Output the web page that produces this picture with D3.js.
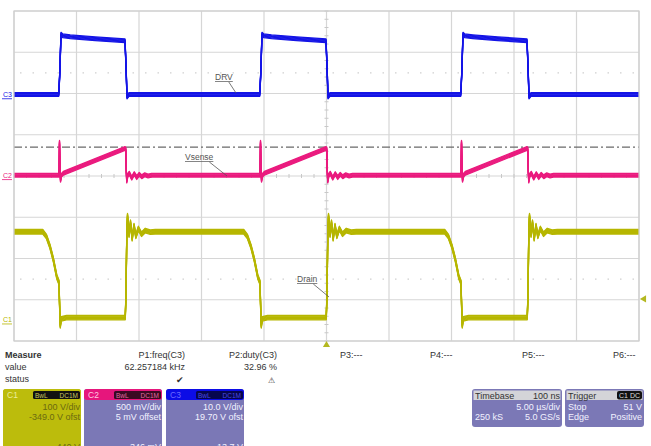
<!DOCTYPE html>
<html>
<head>
<meta charset="utf-8">
<script src="https://cdn.jsdelivr.net/npm/d3@7"></script>
<style>
  body { margin: 0; background: #fff; }
  svg { display: block; font-family: "Liberation Sans", Arial, sans-serif; }
</style>
</head>
<body>
<div id="scope"></div>
<script>
"use strict";

// time in µs, 5 µs/div, 10 divisions
var timeDivs = [0, 5, 10, 15, 20, 25, 30, 35, 40, 45, 50];
var vertDivs = [-4, -3, -2, -1, 0, 1, 2, 3, 4];

// C3 DRV gate drive, volts
var drvPts = [
  [0, 0], [3.58, 0], [3.66, 5], [3.76, 14.6], [3.9, 14.2], [4.5, 14.0], [6.5, 13.5], [8.88, 13.0], [8.96, 7], [9.04, -0.6], [9.2, 0],
  [19.66, 0], [19.74, 5], [19.84, 14.6], [19.98, 14.2], [20.6, 14.0], [22.6, 13.5], [24.96, 13.0], [25.04, 7], [25.12, -0.6], [25.28, 0],
  [35.74, 0], [35.82, 5], [35.92, 14.6], [36.06, 14.2], [36.7, 14.0], [38.7, 13.5], [41.04, 13.0], [41.12, 7], [41.2, -0.6], [41.36, 0],
  [50, 0]
];

// C2 Vsense, mV
var vsensePts = [
  [0, 0], [3.6, 0], [3.64, 400], [3.68, 120], [3.72, -60], [3.8, 0], [3.95, 25], [8.88, 325], [8.94, 318], [8.98, 60], [9.02, -70],
  [9.1, 0], [9.22, 25], [9.42, -35], [9.62, 20], [9.82, -28], [10.02, 12], [10.22, -18], [10.46, 6], [10.72, -8], [11.0, 0],
  [19.68, 0], [19.72, 400], [19.76, 120], [19.8, -60], [19.88, 0], [20.03, 25], [24.96, 325], [25.02, 318], [25.06, 60], [25.1, -70],
  [25.18, 0], [25.3, 25], [25.5, -35], [25.7, 20], [25.9, -28], [26.1, 12], [26.3, -18], [26.54, 6], [26.8, -8], [27.08, 0],
  [35.76, 0], [35.8, 400], [35.84, 120], [35.88, -60], [35.96, 0], [36.11, 25], [41.04, 325], [41.1, 318], [41.14, 60], [41.18, -70],
  [41.26, 0], [41.38, 25], [41.58, -35], [41.78, 20], [41.98, -28], [42.18, 12], [42.38, -18], [42.62, 6], [42.88, -8], [43.16, 0],
  [50, 0]
];

// C1 Drain, volts
var drainPts = [
  [0, 213], [2.3, 213], [2.6, 201], [2.88, 177], [3.15, 145], [3.42, 104], [3.6, 90], [3.66, 20], [3.7, -15], [3.78, 2], [4.2, 5], [8.9, 5],
  [8.96, 60], [9.02, 200], [9.08, 252], [9.2, 205], [9.32, 236], [9.45, 196], [9.6, 228], [9.75, 202], [9.95, 221], [10.2, 207], [10.5, 216], [10.9, 212], [11.3, 213],
  [18.38, 213], [18.68, 201], [18.96, 177], [19.23, 145], [19.5, 104], [19.68, 90], [19.74, 20], [19.78, -15], [19.86, 2], [20.28, 5], [24.98, 5],
  [25.04, 60], [25.1, 200], [25.16, 252], [25.28, 205], [25.4, 236], [25.53, 196], [25.68, 228], [25.83, 202], [26.03, 221], [26.28, 207], [26.58, 216], [26.98, 212], [27.38, 213],
  [34.46, 213], [34.76, 201], [35.04, 177], [35.31, 145], [35.58, 104], [35.76, 90], [35.82, 20], [35.86, -15], [35.94, 2], [36.36, 5], [41.06, 5],
  [41.12, 60], [41.18, 200], [41.24, 252], [41.36, 205], [41.48, 236], [41.61, 196], [41.76, 228], [41.91, 202], [42.11, 221], [42.36, 207], [42.66, 216], [43.06, 212], [43.46, 213],
  [50, 213]
];

var measureHeads = ["P1:freq(C3)", "P2:duty(C3)", "P3:---", "P4:---", "P5:---", "P6:---"];
var measureValues = ["62.257184 kHz", "32.96 %"];
var channelLines = [
  ["100 V/div", "-349.0 V ofst", "440 V"],
  ["500 mV/div", "5 mV offset", "346 mV"],
  ["10.0 V/div", "19.70 V ofst", "13.7 V"]
];

var W = 651, H = 446;
var plot = { left: 14, right: 639, top: 11, bottom: 341 };
var center = (plot.top + plot.bottom) / 2;

var x = d3.scaleLinear().domain([0, 50]).range([plot.left, plot.right]);
var yDiv = d3.scaleLinear().domain([-4, 4]).range([plot.bottom, plot.top]);
// volts/div and offset per channel
function chanScale(vdiv, ofst) {
  return d3.scaleLinear().domain([-4 * vdiv - ofst, 4 * vdiv - ofst]).range([plot.bottom, plot.top]);
}
var yC1 = chanScale(100, -349);
var yC2 = chanScale(500, 5);
var yC3 = chanScale(10, 19.7);

var svg = d3.select("#scope").append("svg").attr("width", W).attr("height", H);

svg.append("defs").append("clipPath").attr("id", "plotclip")
  .append("rect").attr("x", plot.left).attr("y", plot.top)
  .attr("width", plot.right - plot.left).attr("height", plot.bottom - plot.top);

var grid = svg.append("g").attr("class", "grid");
grid.selectAll(".vl").data(timeDivs).enter().append("line")
  .attr("x1", function (d) { return x(d); }).attr("x2", function (d) { return x(d); })
  .attr("y1", plot.top).attr("y2", plot.bottom)
  .attr("stroke", "#d6d6d6").attr("stroke-width", 1.2);
grid.selectAll(".hl").data(vertDivs).enter().append("line")
  .attr("x1", plot.left).attr("x2", plot.right)
  .attr("y1", function (d) { return yDiv(d); }).attr("y2", function (d) { return yDiv(d); })
  .attr("stroke", "#d6d6d6").attr("stroke-width", 1.2);

// dotted rows at +-2.5 div
grid.selectAll(".dot").data([2.5, -2.5]).enter().append("line")
  .attr("x1", plot.left + 6).attr("x2", plot.right)
  .attr("y1", function (d) { return yDiv(d); }).attr("y2", function (d) { return yDiv(d); })
  .attr("stroke", "#d0d0d0").attr("stroke-width", 1.2).attr("stroke-dasharray", "1.5,11");

// minor ticks on the centre lines
var minor = d3.range(0, 50.01, 1);
grid.selectAll(".mt").data(minor).enter().append("line")
  .attr("x1", function (d) { return x(d); }).attr("x2", function (d) { return x(d); })
  .attr("y1", center - 2).attr("y2", center + 2)
  .attr("stroke", "#c8c8c8");
var minorY = d3.range(-4, 4.01, 0.2);
grid.selectAll(".mty").data(minorY).enter().append("line")
  .attr("x1", x(25) - 2).attr("x2", x(25) + 2)
  .attr("y1", function (d) { return yDiv(d); }).attr("y2", function (d) { return yDiv(d); })
  .attr("stroke", "#c8c8c8");

// threshold dash-dot line
svg.append("line")
  .attr("x1", plot.left).attr("x2", plot.right)
  .attr("y1", yC2(345)).attr("y2", yC2(345))
  .attr("stroke", "#6a6a6a").attr("stroke-width", 1.1)
  .attr("stroke-dasharray", "8,3,2,3");

var traces = svg.append("g").attr("clip-path", "url(#plotclip)");
// noise band: same path stacked with small vertical offsets so edges stay thin
function drawTrace(pts, yS, color, band) {
  var line = d3.line().x(function (d) { return x(d[0]); }).y(function (d) { return yS(d[1]); });
  var offs = d3.range(-band, band + 0.01, 0.75);
  var g = traces.append("g");
  offs.forEach(function (o) {
    g.append("path").datum(pts).attr("d", line)
      .attr("transform", "translate(0," + o + ")")
      .attr("fill", "none").attr("stroke", color).attr("stroke-width", 1.3)
      .attr("stroke-linejoin", "round");
  });
}
var cBlue = "#1414e6", cPink = "#ea1a7e", cYel = "#b6b600";
drawTrace(drainPts, yC1, cYel, 2.6);
drawTrace(vsensePts, yC2, cPink, 2.2);
drawTrace(drvPts, yC3, cBlue, 2.2);

svg.append("rect").attr("x", plot.left).attr("y", plot.top)
  .attr("width", plot.right - plot.left).attr("height", plot.bottom - plot.top)
  .attr("fill", "none").attr("stroke", "#cfcfcf").attr("stroke-width", 1.2);

// trace annotations
function note(txt, tx, ty, lx, ly) {
  var t = svg.append("text").attr("x", tx).attr("y", ty).attr("font-size", 8.5)
    .attr("fill", "#555").text(txt);
  var w = t.node().getComputedTextLength();
  svg.append("line").attr("x1", tx).attr("x2", tx + w).attr("y1", ty + 1.5).attr("y2", ty + 1.5)
    .attr("stroke", "#666").attr("stroke-width", 0.8);
  svg.append("line").attr("x1", tx + w - 4).attr("y1", ty + 2).attr("x2", lx).attr("y2", ly)
    .attr("stroke", "#555").attr("stroke-width", 0.8);
}
note("DRV", 215, 80, 236, 93);
note("Vsense", 185, 160, 227, 176);
note("Drain", 297, 282, 329, 297);

// channel ground markers
var gnd = [["C3", yC3(0), cBlue], ["C2", yC2(0), cPink], ["C1", yC1(0), cYel]];
gnd.forEach(function (g) {
  svg.append("text").attr("x", 3).attr("y", g[1] + 2.5).attr("font-size", 7)
    .attr("fill", g[2]).text(g[0]);
  svg.append("line").attr("x1", 2).attr("x2", 12).attr("y1", g[1] + 4).attr("y2", g[1] + 4)
    .attr("stroke", g[2]).attr("stroke-width", 0.8);
});

// trigger markers
svg.append("path").attr("d", d3.symbol().type(d3.symbolTriangle).size(22)())
  .attr("transform", "translate(" + x(25) + "," + (plot.bottom + 4) + ")")
  .attr("fill", "#b4b820");
svg.append("path").attr("d", d3.symbol().type(d3.symbolTriangle).size(22)())
  .attr("transform", "translate(" + (plot.right + 5) + "," + yC1(51) + ") rotate(-90)")
  .attr("fill", "#b4b820");

// measurement table
var meas = svg.append("g").attr("font-size", 9).attr("fill", "#333");
meas.append("text").attr("x", 5).attr("y", 358).attr("font-weight", "bold").text("Measure");
meas.append("text").attr("x", 5).attr("y", 370).text("value");
meas.append("text").attr("x", 5).attr("y", 382).text("status");
var headX = [185, 277, 340, 430, 522, 613];
measureHeads.forEach(function (h, i) {
  meas.append("text").attr("x", headX[i]).attr("y", 358)
    .attr("text-anchor", i < 2 ? "end" : "start").text(h);
});
measureValues.forEach(function (v, i) {
  meas.append("text").attr("x", headX[i]).attr("y", 370).attr("text-anchor", "end").text(v);
});
meas.append("text").attr("x", 180).attr("y", 383).attr("text-anchor", "middle").attr("font-size", 9).text("\u2714");
meas.append("text").attr("x", 271).attr("y", 383).attr("text-anchor", "middle").attr("font-size", 8).text("\u26A0");

// channel descriptor boxes
var boxes = [
  { x: 3, name: "C1", bg: "#bcbc0c", head: "#bcbc0c", badge: "#111", badgeTxt: "#c8c860", txt: "#6b6b10", nameTxt: "#ecec9a" },
  { x: 84, name: "C2", bg: "#7b78b6", head: "#e6167c", badge: "#3a0a22", badgeTxt: "#e06aa0", txt: "#f2f2ff", nameTxt: "#ffc8e0" },
  { x: 166, name: "C3", bg: "#7b78b6", head: "#0c0ce6", badge: "#06064e", badgeTxt: "#4a4ae0", txt: "#f2f2ff", nameTxt: "#6a6aff" }
];
boxes.forEach(function (b, i) {
  var g = svg.append("g");
  g.append("rect").attr("x", b.x).attr("y", 389).attr("width", 78).attr("height", 70)
    .attr("rx", 3).attr("fill", b.bg);
  g.append("rect").attr("x", b.x).attr("y", 389).attr("width", 78).attr("height", 11)
    .attr("rx", 3).attr("fill", b.head);
  g.append("text").attr("x", b.x + 4).attr("y", 398).attr("font-size", 8.5).attr("fill", b.nameTxt).text(b.name);
  g.append("rect").attr("x", b.x + 30).attr("y", 391).attr("width", 47).attr("height", 8)
    .attr("rx", 1.5).attr("fill", b.badge);
  g.append("text").attr("x", b.x + 32).attr("y", 397.5).attr("font-size", 6.5).attr("fill", b.badgeTxt).text("BwL");
  g.append("text").attr("x", b.x + 75).attr("y", 397.5).attr("font-size", 6.5).attr("fill", b.badgeTxt)
    .attr("text-anchor", "end").text("DC1M");
  channelLines[i].forEach(function (s, j) {
    g.append("text").attr("x", b.x + 77).attr("y", [410, 420, 450][j])
      .attr("text-anchor", "end").attr("font-size", 9).attr("fill", b.txt).text(s);
  });
});

// timebase and trigger boxes
function infoBox(x0, w, title, titleRight, rows, badge) {
  var g = svg.append("g").attr("font-size", 9);
  g.append("rect").attr("x", x0).attr("y", 389).attr("width", w).attr("height", 38)
    .attr("rx", 3).attr("fill", "#7b78b6");
  g.append("rect").attr("x", x0 + 1.5).attr("y", 390.5).attr("width", w - 3).attr("height", 9.5)
    .attr("fill", "#d4d4d8");
  g.append("text").attr("x", x0 + 3).attr("y", 398.5).attr("fill", "#333").text(title);
  if (badge) {
    g.append("rect").attr("x", x0 + w - 27).attr("y", 391).attr("width", 25).attr("height", 8.5)
      .attr("rx", 2).attr("fill", "#111");
    g.append("text").attr("x", x0 + w - 14.5).attr("y", 398).attr("text-anchor", "middle")
      .attr("font-size", 7).attr("fill", "#ddd").text(titleRight);
  } else {
    g.append("text").attr("x", x0 + w - 2).attr("y", 398.5).attr("text-anchor", "end")
      .attr("fill", "#333").text(titleRight);
  }
  rows.forEach(function (r, j) {
    var yy = 410 + j * 10;
    g.append("text").attr("x", x0 + 3).attr("y", yy).attr("fill", "#f2f2ff").text(r[0]);
    g.append("text").attr("x", x0 + w - 2).attr("y", yy).attr("text-anchor", "end")
      .attr("fill", "#f2f2ff").text(r[1]);
  });
}
infoBox(472, 90, "Timebase", "100 ns", [["", "5.00 \u00B5s/div"], ["250 kS", "5.0 GS/s"]], false);
infoBox(565, 79, "Trigger", "C1 DC", [["Stop", "51 V"], ["Edge", "Positive"]], true);
</script>
</body>
</html>
